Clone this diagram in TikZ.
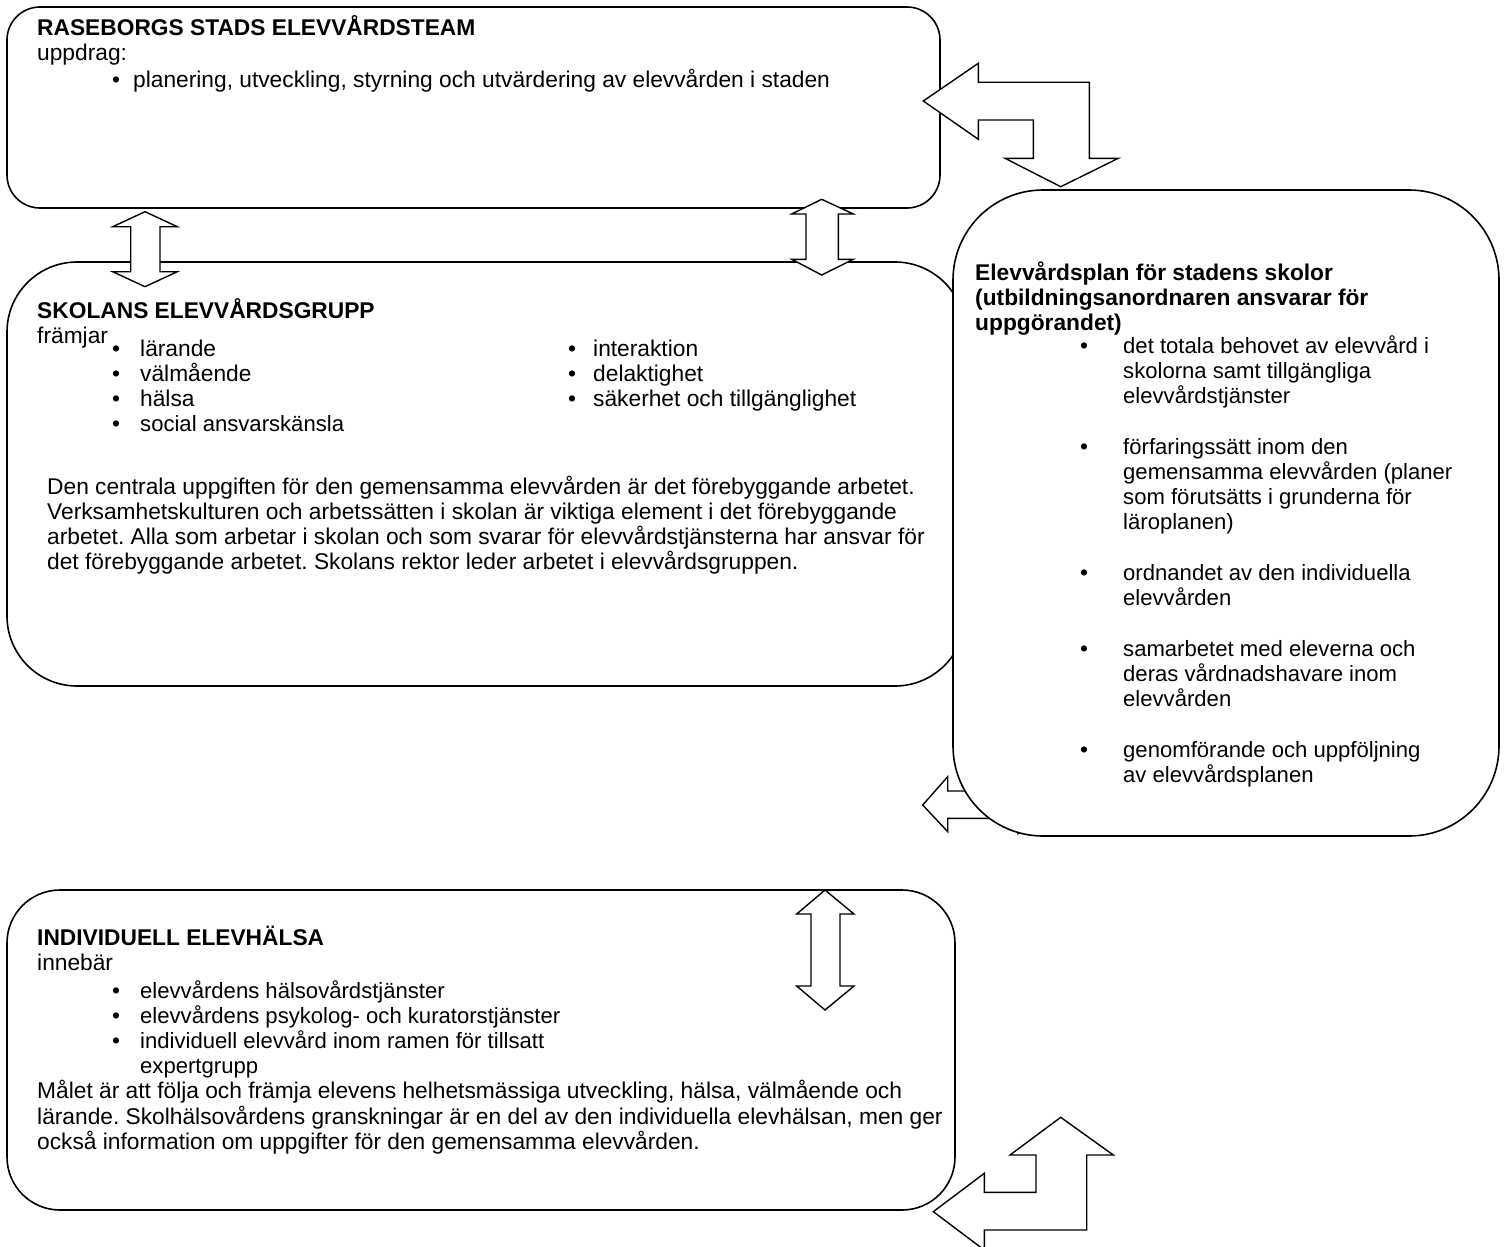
\documentclass[tikz,border=0pt]{standalone}
\usepackage{fontspec}
\setmainfont{Liberation Sans}
\frenchspacing
\newcommand{\fsz}{\fontsize{22.75}{25}\selectfont\frenchspacing}
\newcommand{\fsm}{\fontsize{22.1}{25}\selectfont\frenchspacing}
\begin{document}
\begin{tikzpicture}[x=1pt,y=-1pt,
  box/.style={draw=black, line width=1.6pt, fill=white, rectangle, inner sep=0pt},
  blk/.style={draw=black, line width=1.4pt, fill=white, line join=miter},
  tx/.style={anchor=base west, inner sep=0pt, font=\fsz},
  ts/.style={anchor=base west, inner sep=0pt, font=\fsm},
  tb/.style={anchor=base west, inner sep=0pt, font=\fsz\bfseries},
  bul/.style={anchor=base west, inner sep=0pt, font=\fsz}]
\useasboundingbox (0,0) rectangle (1505,1247);
\clip (0,0) rectangle (1505,1247);

% Box 1
\node[box, rounded corners=33, minimum width=933, minimum height=201] (rase) at (473.5,107.5) {};
\node[tb] (r1) at (37,36) {RASEBORGS STADS ELEVVÅRDSTEAM};
\node[tx] (r2) at (37,60) {uppdrag:};
\node[bul] (r3b) at (112,88) {•};
\node[tx] (r3) at (133,88) {planering, utveckling, styrning och utvärdering av elevvården i staden};

% Box 2
\node[box, rounded corners=70, minimum width=958, minimum height=424] (skol) at (486,474) {};
\node[tb] (s1) at (37,318) {SKOLANS ELEVVÅRDSGRUPP};
\node[tx] (s2) at (37,343) {främjar};
\node[bul] (s3b) at (112,356) {•};\node[tx] (s3) at (140,356) {lärande};
\node[bul] (s4b) at (112,381) {•};\node[tx] (s4) at (140,381) {välmående};
\node[bul] (s5b) at (112,406) {•};\node[tx] (s5) at (140,406) {hälsa};
\node[bul] (s6b) at (112,431) {•};\node[ts] (s6) at (140,431) {social ansvarskänsla};
\node[bul] (s7b) at (568,356) {•};\node[tx] (s7) at (593,356) {interaktion};
\node[bul] (s8b) at (568,381) {•};\node[tx] (s8) at (593,381) {delaktighet};
\node[bul] (s9b) at (568,406) {•};\node[tx] (s9) at (593,406) {säkerhet och tillgänglighet};
\node[tx] (p1) at (47,494) {Den centrala uppgiften för den gemensamma elevvården är det förebyggande arbetet.};
\node[tx] (p2) at (47,519) {Verksamhetskulturen och arbetssätten i skolan är viktiga element i det förebyggande};
\node[tx] (p3) at (47,544) {arbetet. Alla som arbetar i skolan och som svarar för elevvårdstjänsterna har ansvar för};
\node[tx] (p4) at (47,569) {det förebyggande arbetet. Skolans rektor leder arbetet i elevvårdsgruppen.};

% small left-right arrow (mostly hidden)
\path[blk] (922.7,805) -- (947.7,776.7) -- (947.7,791) -- (1018,791) -- (1018,776.7) -- (1043,805) -- (1018,833.5) -- (1018,818.3) -- (947.7,818.3) -- (947.7,831.7) -- cycle;

% Plan box
\node[box, rounded corners=90, minimum width=546, minimum height=646] (plan) at (1226,513) {};
\node[tb] (e1) at (975,280) {Elevvårdsplan för stadens skolor};
\node[tb] (e2) at (975,305) {(utbildningsanordnaren ansvarar för};
\node[tb] (e3) at (975,330) {uppgörandet)};
\node[bul] (e4b) at (1080,353) {•};\node[ts] (e4) at (1123,353) {det totala behovet av elevvård i};
\node[ts] (e5) at (1123,378) {skolorna samt tillgängliga};
\node[ts] (e6) at (1123,403) {elevvårdstjänster};
\node[bul] (e7b) at (1080,454) {•};\node[ts] (e7) at (1123,454) {förfaringssätt inom den};
\node[ts] (e8) at (1123,479) {gemensamma elevvården (planer};
\node[ts] (e9) at (1123,504) {som förutsätts i grunderna för};
\node[ts] (e10) at (1123,529) {läroplanen)};
\node[bul] (e11b) at (1080,580) {•};\node[ts] (e11) at (1123,580) {ordnandet av den individuella};
\node[ts] (e12) at (1123,605) {elevvården};
\node[bul] (e13b) at (1080,656) {•};\node[ts] (e13) at (1123,656) {samarbetet med eleverna och};
\node[ts] (e14) at (1123,681) {deras vårdnadshavare inom};
\node[ts] (e15) at (1123,706) {elevvården};
\node[bul] (e16b) at (1080,757) {•};\node[ts] (e16) at (1123,757) {genomförande och uppföljning};
\node[ts] (e17) at (1123,782) {av elevvårdsplanen};

% Box 4
\node[box, rounded corners=53, minimum width=948, minimum height=320] (indi) at (481,1050) {};
\node[tb] (i1) at (37,945) {INDIVIDUELL ELEVHÄLSA};
\node[tx] (i2) at (37,970) {innebär};
\node[bul] (i3b) at (112,998) {•};\node[ts] (i3) at (140,998) {elevvårdens hälsovårdstjänster};
\node[bul] (i4b) at (112,1023) {•};\node[ts] (i4) at (140,1023) {elevvårdens psykolog- och kuratorstjänster};
\node[bul] (i5b) at (112,1048) {•};\node[ts] (i5) at (140,1048) {individuell elevvård inom ramen för tillsatt};
\node[ts] (i6) at (140,1073) {expertgrupp};
\node[tx] (i7) at (37,1098) {Målet är att följa och främja elevens helhetsmässiga utveckling, hälsa, välmående och};
\node[tx] (i8) at (37,1124) {lärande. Skolhälsovårdens granskningar är en del av den individuella elevhälsan, men ger};
\node[tx] (i9) at (37,1149) {också information om uppgifter för den gemensamma elevvården.};

% Block arrows
\path[blk] (923.3,101) -- (978.3,63.3) -- (978.3,82.3) -- (1089.3,82.3) -- (1089.3,158.3) -- (1118.3,158.3) -- (1060.7,186.7) -- (1005,158.3) -- (1033.3,158.3) -- (1033.3,120) -- (978.3,120) -- (978.3,139.3) -- cycle;
\path[blk] (145,211.7) -- (177.3,226.7) -- (160,226.7) -- (160,271.7) -- (177.3,271.7) -- (145,286.7) -- (112.7,271.7) -- (130.7,271.7) -- (130.7,226.7) -- (112.7,226.7) -- cycle;
\path[blk] (821.7,199.3) -- (853.3,214) -- (838.3,214) -- (838.3,259.3) -- (853.3,259.3) -- (821.7,275) -- (791.7,259.3) -- (806,259.3) -- (806,214) -- (791.7,214) -- cycle;
\path[blk] (825,890) -- (854,914) -- (840,914) -- (840,986) -- (854,986) -- (825,1010) -- (796.7,986) -- (811,986) -- (811,914) -- (796.7,914) -- cycle;
\path[blk] (1060.7,1117.3) -- (1113.3,1155) -- (1086.7,1155) -- (1086.7,1230) -- (984.3,1230) -- (984.3,1250) -- (933.3,1211.7) -- (984.3,1173.3) -- (984.3,1192.3) -- (1036,1192.3) -- (1036,1155) -- (1010,1155) -- cycle;
\end{tikzpicture}
\end{document}
